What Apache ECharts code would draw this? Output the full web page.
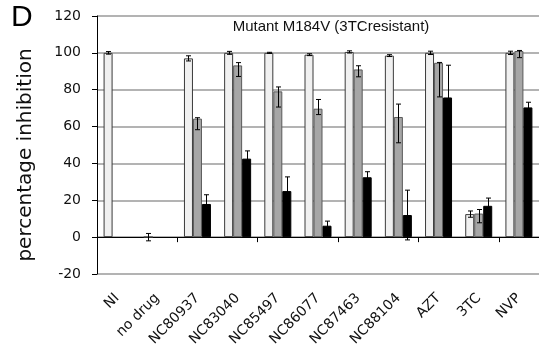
<!DOCTYPE html>
<html>
<head>
<meta charset="utf-8">
<script src="https://cdn.jsdelivr.net/npm/echarts@6/dist/echarts.min.js"></script>
<style>
  html, body { margin: 0; padding: 0; background: #fff; }
  #chart { width: 539px; height: 356px; }
</style>
</head>
<body>
<div id="chart"></div>
<script>
// Compounds / controls along the x axis
const categories = ['NI', 'no drug', 'NC80937', 'NC83040', 'NC85497', 'NC86077', 'NC87463', 'NC88104', 'AZT', '3TC', 'NVP'];

// Percentage inhibition, three concentrations per compound (null = not measured)
const lightValues = [100, 0, 97, 100, 100, 99, 100.5, 98.5, 100, 12.5, 100];
const greyValues  = [null, null, 64.3, 93.2, 79.1, 69.7, 91, 65.2, 94.6, 12.8, 101];
const blackValues = [null, null, 18, 42.6, 25, 6.2, 32.5, 12, 75.8, 17, 70.4];

// Error bar extents above / below each bar
const lightErr     = [0.7, 2, 1.4, 0.8, 0.3, 0.5, 0.6, 0.5, 0.9, 1.7, 0.9];
const greyErrUp    = [null, null, 0.5, 1.5, 2.4, 5, 2, 7, 0.2, 2.2, 0.3];
const greyErrDown  = [null, null, 6, 6, 8.5, 3.2, 4, 14, 18.5, 5, 3.6];
const blackErr     = [null, null, 5, 4.2, 7.7, 2.5, 3, 13.5, 17.5, 4.2, 2.8];

const yTicks = { min: -20, max: 120, step: 20 };

const BAR_W = 9;

function errData(values, up, down) {
  const out = [];
  values.forEach((v, i) => {
    if (v === null || up[i] === null) return;
    out.push([i, v - (down ? down[i] : up[i]), v + up[i]]);
  });
  return out;
}

function errSeries(data, slot) {
  return {
    type: 'custom',
    xAxisIndex: 0,
    z: 10,
    silent: true,
    data: data,
    encode: { x: 0, y: [1, 2] },
    renderItem: function (params, api) {
      const i = api.value(0);
      const lo = api.coord([i, api.value(1)]);
      const hi = api.coord([i, api.value(2)]);
      const x = Math.round(lo[0] + slot * BAR_W) + 0.5;
      const cap = 2.5;
      const st = { stroke: '#000', lineWidth: 1 };
      return {
        type: 'group',
        children: [
          { type: 'line', shape: { x1: x, y1: lo[1], x2: x, y2: hi[1] }, style: st },
          { type: 'line', shape: { x1: x - cap, y1: lo[1], x2: x + cap, y2: lo[1] }, style: st },
          { type: 'line', shape: { x1: x - cap, y1: hi[1], x2: x + cap, y2: hi[1] }, style: st }
        ]
      };
    }
  };
}

const chart = echarts.init(document.getElementById('chart'), null, { renderer: 'canvas' });

chart.setOption({
  animation: false,
  backgroundColor: '#fff',
  grid: { left: 97, top: 16, width: 443, height: 258, containLabel: false },
  xAxis: [
    {
      type: 'category',
      data: categories,
      axisLine: { onZero: true, lineStyle: { color: '#000', width: 1 } },
      axisTick: { show: true, length: 5, lineStyle: { color: '#000' } },
      axisLabel: { show: false },
      splitLine: { show: false }
    },
    {
      type: 'category',
      data: categories,
      position: 'bottom',
      axisLine: { show: false, onZero: false },
      axisTick: { show: false },
      axisLabel: {
        interval: 0,
        rotate: 45,
        margin: 22,
        fontFamily: 'DejaVu Sans',
        fontSize: 14,
        color: '#111'
      },
      splitLine: { show: false }
    }
  ],
  yAxis: {
    type: 'value',
    min: yTicks.min,
    max: yTicks.max,
    interval: yTicks.step,
    axisLine: { show: true, lineStyle: { color: '#000', width: 1 } },
    axisTick: { show: true, length: 5, lineStyle: { color: '#000' } },
    axisLabel: {
      margin: 16,
      fontFamily: 'DejaVu Sans',
      fontSize: 14,
      color: '#111'
    },
    splitLine: { show: true, lineStyle: { color: '#9a9a9a', width: 1.5 } }
  },
  graphic: [
    {
      type: 'text', left: 11, top: 3,
      style: { text: 'D', font: '30px "Liberation Sans"', fill: '#000' }
    },
    {
      type: 'text', x: 331, y: 27,
      style: { text: 'Mutant M184V (3TCresistant)', font: '15px "Liberation Sans"', fill: '#111', textAlign: 'center', textVerticalAlign: 'middle' }
    },
    {
      type: 'text', x: 26, y: 155, rotation: Math.PI / 2,
      style: { text: 'percentage inhibition', font: '20px "DejaVu Sans"', fill: '#111', textAlign: 'center', textVerticalAlign: 'middle' }
    }
  ],
  series: [
    {
      type: 'bar', xAxisIndex: 0, data: lightValues, barWidth: BAR_W, barGap: '0%',
      itemStyle: { color: '#f0f0f0', borderColor: '#3a3a3a', borderWidth: 1 }
    },
    {
      type: 'bar', xAxisIndex: 0, data: greyValues, barWidth: BAR_W, barGap: '0%',
      itemStyle: { color: '#a6a6a6', borderColor: '#5a5a5a', borderWidth: 1 }
    },
    {
      type: 'bar', xAxisIndex: 0, data: blackValues, barWidth: BAR_W, barGap: '0%',
      itemStyle: { color: '#000', borderColor: '#000', borderWidth: 1 }
    },
    errSeries(errData(lightValues, lightErr), -1),
    errSeries(errData(greyValues, greyErrUp, greyErrDown), 0),
    errSeries(errData(blackValues, blackErr), 1)
  ]
});
</script>
</body>
</html>
